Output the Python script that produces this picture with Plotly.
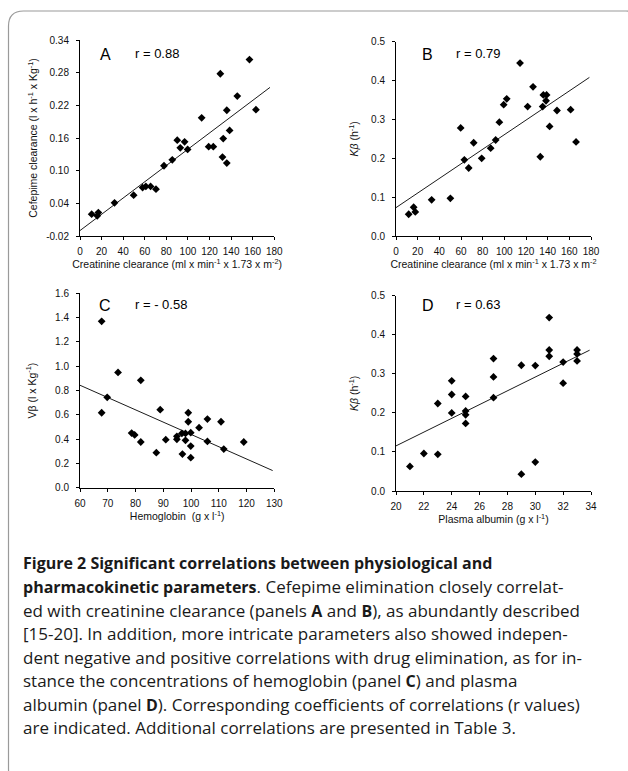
import numpy as np
import plotly.graph_objects as go

# ---------------- data ----------------
a_x = [10.8, 16, 17, 32, 49.7, 58, 61, 65.4, 70.4, 77.8, 85.5, 90.1, 92.9, 96.9, 99.7,
       112.7, 119.2, 123.5, 130, 132, 132.7, 136, 136, 138.6, 145.7, 157, 163]
a_y = [0.020, 0.017, 0.023, 0.041, 0.055, 0.069, 0.071, 0.071, 0.066, 0.109, 0.120, 0.156,
       0.142, 0.153, 0.139, 0.197, 0.144, 0.144, 0.278, 0.125, 0.159, 0.114, 0.211, 0.174,
       0.237, 0.304, 0.212]

b_x = [11.7, 16.3, 17.8, 32.9, 50.2, 59.7, 63.1, 67.1, 71.7, 79.1, 87.4, 92, 95.4, 99.4,
       102.2, 114.5, 121.5, 126.5, 133.2, 135.4, 136, 139, 138.5, 141.8, 148.6, 161.2, 166.2]
b_y = [0.056, 0.074, 0.062, 0.093, 0.097, 0.278, 0.196, 0.175, 0.240, 0.200, 0.226, 0.247,
       0.293, 0.338, 0.353, 0.445, 0.333, 0.384, 0.204, 0.333, 0.363, 0.363, 0.348, 0.282,
       0.323, 0.325, 0.242]

c_x = [67.8, 67.8, 69.8, 73.7, 78.6, 79.7, 81.9, 81.9, 87.5, 88.9, 90.9, 94.9, 94.9, 96.7,
       96.9, 98, 98, 99, 99, 99.9, 99.9, 99.9, 102.9, 105.9, 105.9, 110.8, 111.8, 119]
c_y = [1.369, 0.617, 0.744, 0.949, 0.450, 0.434, 0.884, 0.376, 0.288, 0.642, 0.395, 0.423,
       0.398, 0.447, 0.277, 0.447, 0.390, 0.543, 0.617, 0.453, 0.343, 0.247, 0.494, 0.565,
       0.381, 0.543, 0.318, 0.376]

d_x = [21, 22, 23, 23, 24, 24, 24, 25, 25, 25, 25, 27, 27, 27, 29, 29, 30, 30, 31, 31, 31,
       32, 32, 33, 33, 33]
d_y = [0.063, 0.096, 0.094, 0.224, 0.282, 0.247, 0.200, 0.242, 0.205, 0.195, 0.173, 0.339,
       0.292, 0.239, 0.322, 0.043, 0.321, 0.074, 0.444, 0.361, 0.345, 0.330, 0.276, 0.361,
       0.351, 0.333]

# regression lines: (intercept, slope), drawn over x span
a_fit = (-0.010, 0.001494); a_span = [0, 176]
b_fit = (0.073, 0.001877); b_span = [0, 178.5]
c_fit = (1.450, -0.010115); c_span = [60, 129.4]
d_fit = (-0.237, 0.017626); d_span = [20, 33.9]

# tick labels
a_yticks = [-0.02, 0.04, 0.10, 0.16, 0.22, 0.28, 0.34]
a_yticktext = ["-0.02", "0.04", "0.10", "0.16", "0.22", "0.28", "0.34"]

panels = [
    dict(x=a_x, y=a_y, fit=a_fit, span=a_span, letter="A", r="r = 0.88"),
    dict(x=b_x, y=b_y, fit=b_fit, span=b_span, letter="B", r="r = 0.79"),
    dict(x=c_x, y=c_y, fit=c_fit, span=c_span, letter="C", r="r = - 0.58"),
    dict(x=d_x, y=d_y, fit=d_fit, span=d_span, letter="D", r="r = 0.63"),
]

W, H = 628, 771
def px(v): return v / W
def py(v): return 1 - v / H

# plot-area boxes in pixels (left, right, top, bottom)
boxes = [(80, 274.3, 40, 236), (396, 591, 41.7, 236),
         (80, 274.3, 293.3, 487.7), (396, 591, 295.7, 491)]

fig = go.Figure()
ARIAL = "Liberation Sans, Arial, sans-serif"
tickfont = dict(family=ARIAL, size=10, color="#111")
titlefont = dict(family=ARIAL, size=10.5, color="#111")

for i, p in enumerate(panels):
    xa = "x" if i == 0 else f"x{i+1}"
    ya = "y" if i == 0 else f"y{i+1}"
    fig.add_trace(go.Scatter(x=p["x"], y=p["y"], mode="markers", xaxis=xa, yaxis=ya,
                             marker=dict(symbol="diamond", size=6, color="black"),
                             showlegend=False, cliponaxis=False))
    b0, b1 = p["fit"]
    lx = np.array(p["span"], dtype=float)
    fig.add_trace(go.Scatter(x=lx, y=b0 + b1 * lx, mode="lines", xaxis=xa, yaxis=ya,
                             line=dict(color="black", width=0.9), showlegend=False))

axis_common = dict(showline=True, linecolor="black", linewidth=1, ticks="outside",
                   ticklen=3, tickcolor="black", showgrid=False, zeroline=False,
                   tickfont=tickfont, automargin=False)

xcfg = [
    dict(range=[0, 180], dtick=20, tick0=0,
         title="Creatinine clearance (ml x min<sup>-1</sup> x 1.73 x m<sup>-2</sup>)"),
    dict(range=[0, 180], dtick=20, tick0=0,
         title="Creatinine clearance (ml x min<sup>-1</sup> x 1.73 x m<sup>-2</sup>"),
    dict(range=[60, 130], dtick=10, tick0=60, title="Hemoglobin  (g x l<sup>-1</sup>)"),
    dict(range=[20, 34], dtick=2, tick0=20, title="Plasma albumin (g x l<sup>-1</sup>)"),
]
ycfg = [
    dict(range=[-0.02, 0.34], tickvals=a_yticks, ticktext=a_yticktext,
         title="Cefepime clearance (l x h<sup>-1</sup> x Kg<sup>-1</sup>)", standoff=6),
    dict(range=[0, 0.5], dtick=0.1, tick0=0, tickformat=".1f",
         title="<i>K</i><i>β</i> (h<sup>-1</sup>)", standoff=10),
    dict(range=[0, 1.6], dtick=0.2, tick0=0, tickformat=".1f",
         title="Vβ (l x Kg<sup>-1</sup>)", standoff=16),
    dict(range=[0, 0.5], dtick=0.1, tick0=0, tickformat=".1f",
         title="<i>K</i><i>β</i> (h<sup>-1</sup>)", standoff=10),
]

layout = dict(width=W, height=H, margin=dict(l=0, r=0, t=0, b=0, pad=0, autoexpand=False),
              paper_bgcolor="white", plot_bgcolor="white", showlegend=False)

for i, (l, r, t, b) in enumerate(boxes):
    xn = "xaxis" if i == 0 else f"xaxis{i+1}"
    yn = "yaxis" if i == 0 else f"yaxis{i+1}"
    xa = "x" if i == 0 else f"x{i+1}"
    ya = "y" if i == 0 else f"y{i+1}"
    xc, yc = xcfg[i], ycfg[i]
    layout[xn] = dict(axis_common, domain=[px(l), px(r)], anchor=ya,
                      range=xc["range"], dtick=xc["dtick"], tick0=xc["tick0"],
                      ticklabelstandoff=3,
                      title=dict(text=xc["title"], font=titlefont, standoff=3))
    ydict = dict(axis_common, domain=[py(b), py(t)], anchor=xa, range=yc["range"],
                 ticklabelstandoff=5,
                 title=dict(text=yc["title"], font=titlefont, standoff=yc["standoff"]))
    if "tickvals" in yc:
        ydict.update(tickmode="array", tickvals=yc["tickvals"], ticktext=yc["ticktext"])
    else:
        ydict.update(dtick=yc["dtick"], tick0=yc["tick0"], tickformat=yc["tickformat"])
    layout[yn] = ydict

fig.update_layout(**layout)

# panel labels
label_pos = [(98, 55, 133), (420, 55, 454), (97, 306, 133), (420, 306, 454)]
for p, (lx0, ly0, rx0) in zip(panels, label_pos):
    fig.add_annotation(x=px(lx0), y=py(ly0), xref="paper", yref="paper", text=p["letter"],
                       showarrow=False, xanchor="left", yanchor="middle",
                       font=dict(family=ARIAL, size=16, color="black"))
    fig.add_annotation(x=px(rx0), y=py(ly0 - 1), xref="paper", yref="paper", text=p["r"],
                       showarrow=False, xanchor="left", yanchor="middle",
                       font=dict(family=ARIAL, size=13, color="black"))

# caption
def B(s):
    return f'<span style="font-size:16px"><b>{s}</b></span>'

caption_lines = [
    B("Figure 2 Significant correlations between physiological and"),
    B("pharmacokinetic parameters") + ". Cefepime elimination closely correlat-",
    "ed with creatinine clearance (panels " + B("A") + " and " + B("B") + "), as abundantly described",
    "[15-20]. In addition, more intricate parameters also showed indepen-",
    "dent negative and positive correlations with drug elimination, as for in-",
    "stance the concentrations of hemoglobin (panel " + B("C") + ") and plasma",
    "albumin (panel " + B("D") + "). Corresponding coefficients of correlations (r values)",
    "are indicated. Additional correlations are presented in Table 3.",
]
cap_y = [563.3, 586.7, 610, 633.3, 657.3, 680.7, 704, 727.3]
for txt, yy in zip(caption_lines, cap_y):
    fig.add_annotation(x=px(21), y=py(yy), xref="paper", yref="paper", text=txt,
                       showarrow=False, xanchor="left", yanchor="middle",
                       font=dict(family="Open Sans, sans-serif", size=17, color="#1a1a1a"))

# rounded frame (right and bottom edges fall outside the page)
L, T, R, Bm, rad = 8.5, 11, 641, 784, 15
def P(x, y): return f"{px(x):.5f},{py(y):.5f}"
path = (f"M {P(L, Bm - rad)} L {P(L, T + rad)} Q {P(L, T)} {P(L + rad, T)} "
        f"L {P(R - rad, T)} Q {P(R, T)} {P(R, T + rad)} L {P(R, Bm - rad)} "
        f"Q {P(R, Bm)} {P(R - rad, Bm)} L {P(L + rad, Bm)} Q {P(L, Bm)} {P(L, Bm - rad)} Z")
fig.add_shape(type="path", path=path, xref="paper", yref="paper",
              line=dict(color="#9a9a9a", width=1.2), layer="below")

fig.write_html("out.html", config={"displayModeBar": False},
               post_script="document.body.style.margin='0';document.body.style.overflow='hidden';")
